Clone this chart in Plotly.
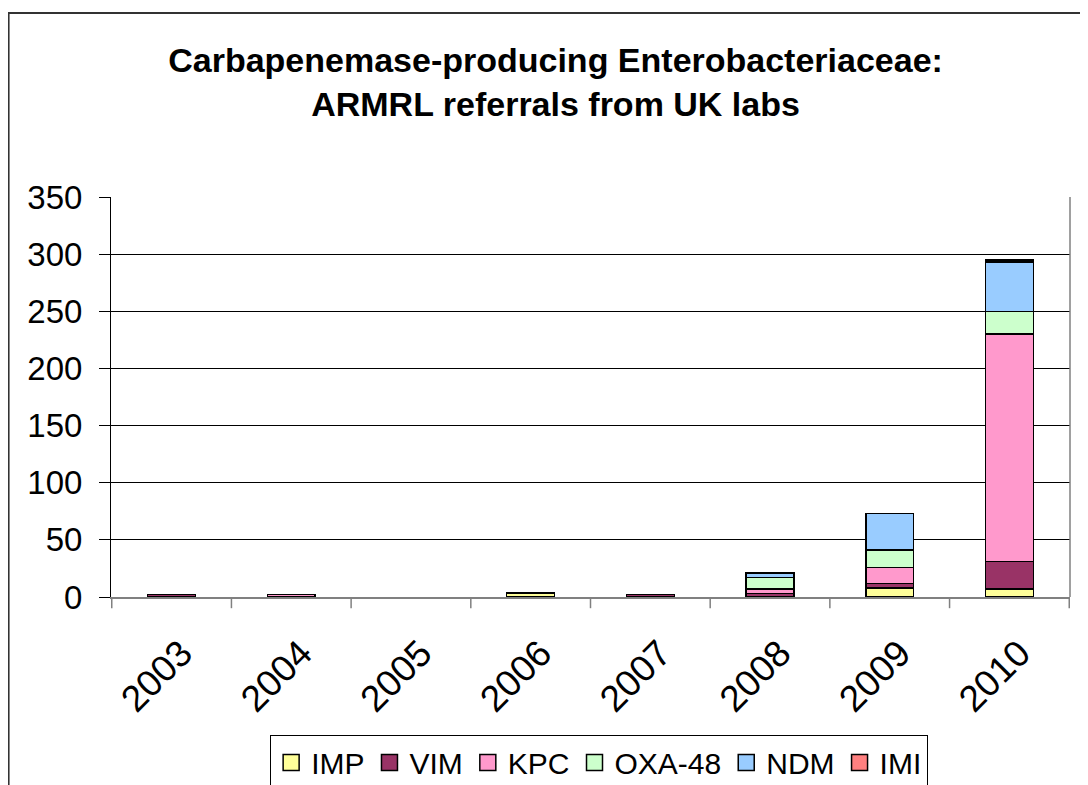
import plotly.graph_objects as go

years = ["2003", "2004", "2005", "2006", "2007", "2008", "2009", "2010"]
imp = [0, 0, 0, 3, 0, 0, 8, 7]
vim = [2, 0, 0, 1, 2, 3, 4, 24]
kpc = [0, 2, 0, 0, 0, 4, 14, 199]
oxa48 = [0, 0, 0, 0, 0, 10, 15, 20]
ndm = [0, 0, 0, 0, 0, 4, 32, 43]
imi = [0, 0, 0, 0, 0, 0, 0, 2]

series = [
    ("IMP", imp, "#FFFF99"),
    ("VIM", vim, "#993366"),
    ("KPC", kpc, "#FF99CC"),
    ("OXA-48", oxa48, "#CCFFCC"),
    ("NDM", ndm, "#99CCFF"),
    ("IMI", imi, "#FF8080"),
]

fig = go.Figure()
for name, vals, col in series:
    fig.add_trace(go.Bar(
        x=years, y=[v if v else None for v in vals], name=name,
        marker=dict(color=col, line=dict(color="black", width=1.5)),
        showlegend=False,
    ))
# legend entries with larger square swatches
for name, vals, col in series:
    fig.add_trace(go.Scatter(
        x=[None], y=[None], mode="markers", name=name,
        marker=dict(symbol="square", size=16, color=col,
                    line=dict(color="black", width=1.5)),
        showlegend=True, hoverinfo="skip",
    ))

font = "Liberation Sans, Arial, sans-serif"
W, H = 1080, 800
L, R, T, B = 103, 18, 189, 211
fig.update_layout(
    barmode="stack",
    bargap=0.6,
    width=W, height=H,
    margin=dict(l=L, r=R, t=T, b=B),
    paper_bgcolor="white",
    plot_bgcolor="white",
    font=dict(family=font, size=28, color="black"),
    title=dict(
        text="<b>Carbapenemase-producing Enterobacteriaceae:<br>ARMRL referrals from UK labs</b>",
        x=0.507, xanchor="center", y=0.92, yanchor="middle",
        font=dict(family=font, size=34, color="black"),
    ),
    xaxis=dict(
        type="category",
        categoryorder="array", categoryarray=years,
        tickangle=-45,
        showline=True, linecolor="#808080", linewidth=1.5,
        ticks="", showgrid=False,
        tickfont=dict(size=37),
        ticklabelstandoff=18,
        ticklabelshift=10,
        automargin=False,
    ),
    yaxis=dict(
        range=[0, 350], dtick=50,
        showline=True, linecolor="black", linewidth=1,
        ticks="outside", ticklen=11, tickcolor="black",
        showgrid=True, gridcolor="black", gridwidth=1,
        zeroline=False,
        tickfont=dict(size=33),
        ticklabelstandoff=10,
        automargin=False,
    ),
    legend=dict(
        orientation="h",
        x=0.509, xanchor="center",
        y=-0.346, yanchor="top",
        bordercolor="black", borderwidth=1,
        font=dict(size=30),
        traceorder="normal",
        itemwidth=30,
        itemsizing="trace",
    ),
    showlegend=True,
)

# category boundary ticks below x axis
for i in range(len(years) + 1):
    fig.add_shape(type="line", xref="x", yref="paper",
                  x0=i - 0.5, x1=i - 0.5, y0=0, y1=-0.028,
                  line=dict(color="#808080", width=1.5))

# right plot border
fig.add_shape(type="line", xref="paper", yref="paper",
              x0=1, x1=1, y0=0, y1=1, line=dict(color="#808080", width=1.5))

# outer chart frame
fig.add_shape(type="rect", xref="paper", yref="paper",
              x0=-0.1068, x1=1.1, y0=-0.6, y1=1.46,
              line=dict(color="#333333", width=2))

fig.write_html("out.html")
